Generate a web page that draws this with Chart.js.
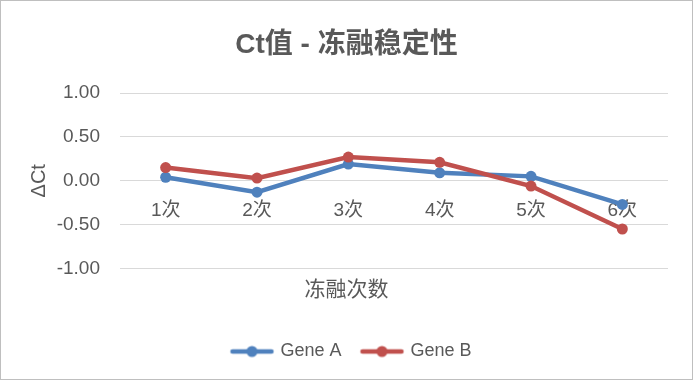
<!DOCTYPE html>
<html>
<head>
<meta charset="utf-8">
<script src="https://cdn.jsdelivr.net/npm/chart.js@4/dist/chart.umd.min.js"></script>
<style>
  html, body { margin: 0; padding: 0; background: #ffffff; }
  #wrap { width: 693px; height: 380px; position: relative; }
</style>
</head>
<body>
<div id="wrap"><canvas id="c" width="693" height="380"></canvas></div>
<script>
const chartTitle = 'Ct值 - 冻融稳定性';
const categories = ['1次', '2次', '3次', '4次', '5次', '6次'];
const geneA = [0.04, -0.13, 0.19, 0.09, 0.05, -0.27];
const geneB = [0.15, 0.03, 0.27, 0.21, -0.06, -0.55];
const seriesNames = ['Gene A', 'Gene B'];
const seriesColors = ['#4F81BD', '#C0504D'];
const yTitle = 'ΔCt';
const xTitle = '冻融次数';
const yMin = -1, yMax = 1, yStep = 0.5;

const FONT = '"Liberation Sans", Arial, "Noto Sans CJK SC", sans-serif';
const TEXT = '#595959';

function legendIcon(color) {
  const c = document.createElement('canvas');
  c.width = 62; c.height = 14;
  const g = c.getContext('2d');
  g.strokeStyle = color; g.lineWidth = 4.5; g.lineCap = 'round';
  g.beginPath(); g.moveTo(17, 7); g.lineTo(56, 7); g.stroke();
  g.fillStyle = color;
  g.beginPath(); g.arc(36.5, 7, 5.5, 0, Math.PI * 2); g.fill();
  return c;
}

const borderPlugin = {
  id: 'frame',
  beforeDraw(chart) {
    const ctx = chart.ctx;
    ctx.save();
    ctx.fillStyle = '#ffffff';
    ctx.fillRect(0, 0, chart.width, chart.height);
    ctx.restore();
  },
  afterDraw(chart) {
    const ctx = chart.ctx;
    ctx.save();
    ctx.strokeStyle = '#bfbfbf';
    ctx.lineWidth = 1;
    ctx.strokeRect(0.5, 0.5, chart.width - 1, chart.height - 1);
    ctx.restore();
  }
};

new Chart(document.getElementById('c'), {
  type: 'line',
  data: {
    labels: categories,
    datasets: [
      { label: seriesNames[0], data: geneA, borderColor: seriesColors[0], backgroundColor: seriesColors[0],
        borderWidth: 4.5, pointRadius: 5.5, pointBorderWidth: 0, tension: 0, order: 1,
        pointStyle: 'circle' },
      { label: seriesNames[1], data: geneB, borderColor: seriesColors[1], backgroundColor: seriesColors[1],
        borderWidth: 4.5, pointRadius: 5.5, pointBorderWidth: 0, tension: 0, order: 0,
        pointStyle: 'circle' }
    ]
  },
  options: {
    responsive: false,
    animation: false,
    devicePixelRatio: 1,
    layout: { padding: { left: 25, right: 25, top: 0, bottom: 9.5 } },
    plugins: {
      title: {
        display: true, text: chartTitle, color: TEXT,
        font: { family: FONT, size: 28, weight: 'bold' },
        padding: { top: 28.5, bottom: 30.9 }
      },
      subtitle: {
        display: true, text: xTitle, color: TEXT, position: 'bottom', weight: 500,
        font: { family: FONT, size: 21, weight: 'normal' },
        padding: { top: 9.4, bottom: 29.4 }
      },
      legend: {
        position: 'bottom',
        labels: {
          color: TEXT,
          font: { family: FONT, size: 18 },
          usePointStyle: true,
          pointStyleWidth: 50,
          padding: 10,
          sort: (a, b) => a.datasetIndex - b.datasetIndex,
          generateLabels(chart) {
            return chart.data.datasets.map((ds, i) => ({
              text: ds.label, fontColor: TEXT, datasetIndex: i,
              pointStyle: legendIcon(seriesColors[i]), lineWidth: 0,
              fillStyle: seriesColors[i], strokeStyle: seriesColors[i], hidden: false
            }));
          }
        }
      },
      tooltip: { enabled: false }
    },
    scales: {
      x: {
        type: 'category',
        offset: true,
        position: { y: 0 },
        grid: { display: false, drawTicks: false },
        border: { display: false },
        ticks: { color: TEXT, font: { family: FONT, size: 19 }, padding: 19, maxRotation: 0 }
      },
      y: {
        min: yMin, max: yMax,
        grid: { color: '#d9d9d9', lineWidth: 1, drawTicks: false },
        border: { display: false },
        ticks: { stepSize: yStep, color: TEXT, font: { family: FONT, size: 19 }, padding: 20,
                 callback: v => Number(v).toFixed(2) },
        title: { display: true, text: yTitle, color: TEXT, font: { family: FONT, size: 20 },
                 padding: { top: 2, bottom: 4 } },
        afterFit(s) { s.width = 95; }
      }
    }
  },
  plugins: [borderPlugin]
});
</script>
</body>
</html>
